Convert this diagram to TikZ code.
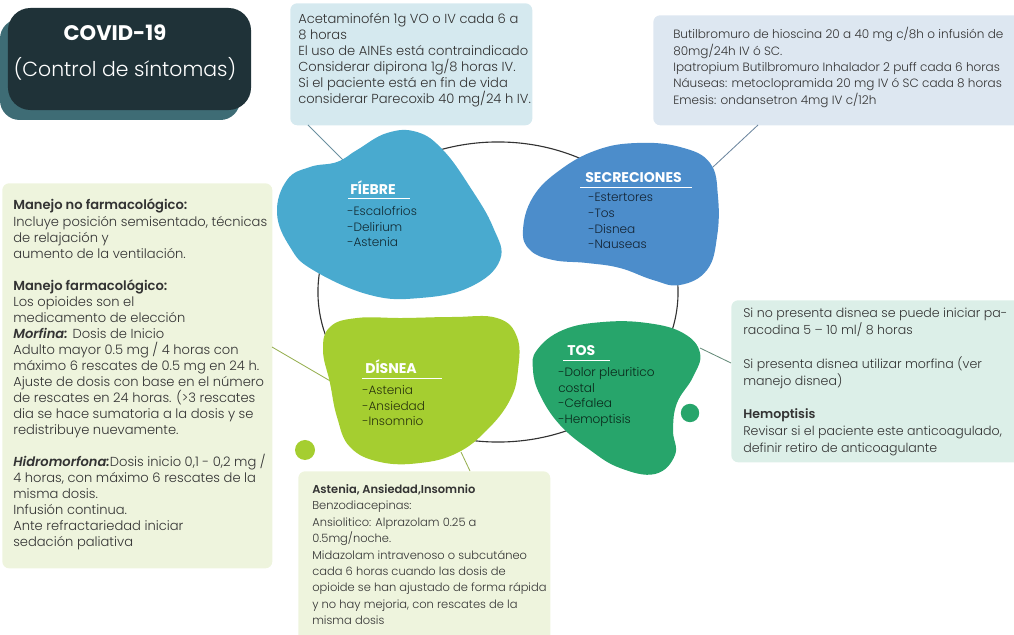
\documentclass[tikz,border=0pt]{standalone}
\usepackage{fontspec}
\setmainfont{Poppins}[UprightFont=* Light, BoldFont=* SemiBold, ItalicFont=* Light Italic, BoldItalicFont=* SemiBold Italic]
\newfontfamily\heavyfont{Poppins}[UprightFont=* Bold]
\usetikzlibrary{calc}
\definecolor{titledark}{HTML}{1F3238}
\definecolor{titleshadow}{HTML}{3E6C75}
\definecolor{fiebreblue}{HTML}{49AACF}
\definecolor{secblue}{HTML}{4C8DCB}
\definecolor{disneagreen}{HTML}{A5CE30}
\definecolor{tosgreen}{HTML}{27A56B}
\definecolor{acetfill}{HTML}{D5E9EF}
\definecolor{butilfill}{HTML}{DDE7F1}
\definecolor{manejofill}{HTML}{EEF4DD}
\definecolor{tosfill}{HTML}{DCEFE8}
\definecolor{boxgray}{HTML}{333333}
\definecolor{ringgray}{HTML}{333333}
\begin{document}
\begin{tikzpicture}[x=0.025cm, y=-0.025cm,
    infobox/.style={rectangle, rounded corners=5pt, anchor=north west, inner sep=0pt},
    boxtext/.style={anchor=north west, align=left, inner sep=0pt, text=boxgray},
    blobtitle/.style={anchor=west, inner sep=0pt, text=white, font=\heavyfont\fontsize{10}{11}\selectfont},
    bloblist/.style={anchor=north west, align=left, inner sep=0pt, font=\fontsize{8.6}{11.2}\selectfont},
    link/.style={line width=0.6pt}
]
    \useasboundingbox (0,0) rectangle (1014,635);

    % title
    \fill[titleshadow, rounded corners=14pt] (0,19) rectangle (240,120);
    \node[fill=titledark, rounded corners=16pt, minimum width=6.075cm, minimum height=2.55cm, inner sep=0pt] (title) at (129.5,59) {};
    \node[text=white, font=\heavyfont\fontsize{15}{17}\selectfont] (covid) at (115,33) {COVID-19};
    \node[text=white, font=\fontsize{14.5}{17}\selectfont] (control) at (125,69) {(Control de síntomas)};

    % info boxes
    \node[infobox, fill=acetfill, minimum width=6.05cm, minimum height=3.05cm] (acet) at (290,3) {};
    \node[infobox, fill=butilfill, minimum width=9.4cm, minimum height=2.75cm] (butil) at (653,15) {};
    \node[infobox, fill=manejofill, minimum width=6.75cm, minimum height=9.625cm] (manejo) at (2,183) {};
    \node[infobox, fill=manejofill, minimum width=6.3cm, minimum height=4.5cm] (benzo) at (298,471) {};
    \node[infobox, fill=tosfill, minimum width=7.4cm, minimum height=4.05cm] (hemo) at (731,300) {};

    \node[boxtext, font=\fontsize{9.3}{11.4}\selectfont] (acet-text) at (298,13) {%
        Acetaminofén 1g VO o IV cada 6 a\\
        8 horas\\
        El uso de AINEs está contraindicado\\
        Considerar dipirona 1g/8 horas IV.\\
        Si el paciente está en fin de vida\\
        considerar Parecoxib 40 mg/24 h IV.};
    \node[boxtext, font=\fontsize{8.55}{11.7}\selectfont] (butil-text) at (673,27) {%
        Butilbromuro de hioscina 20 a 40 mg c/8h o infusión de\\
        80mg/24h IV ó SC.\\
        Ipatropium Butilbromuro Inhalador 2 puff cada 6 horas\\
        Náuseas: metoclopramida 20 mg IV ó SC cada 8 horas\\
        Emesis: ondansetron 4mg IV c/12h};
    \node[boxtext, font=\fontsize{9.3}{11.4}\selectfont] (manejo-text) at (13,199) {%
        \textbf{Manejo no farmacológico:}\\
        Incluye posición semisentado, técnicas\\
        de relajación y\\
        aumento de la ventilación.\\[11.4pt]
        \textbf{Manejo farmacológico:}\\
        Los opioides son el\\
        medicamento de elección\\
        \textbf{\textit{Morfina:}} Dosis de Inicio\\
        Adulto mayor 0.5 mg / 4 horas con\\
        máximo 6 rescates de 0.5 mg en 24 h.\\
        Ajuste de dosis con base en el número\\
        de rescates en 24 horas. (>3 rescates\\
        dia se hace sumatoria a la dosis y se\\
        redistribuye nuevamente.\\[11.4pt]
        \textbf{\textit{Hidromorfona:}}Dosis inicio 0,1 - 0,2 mg /\\
        4 horas, con máximo 6 rescates de la\\
        misma dosis.\\
        Infusión continua.\\
        Ante refractariedad iniciar\\
        sedación paliativa};
    \node[boxtext, font=\fontsize{8.15}{11.7}\selectfont] (benzo-text) at (312,484) {%
        \textbf{Astenia, Ansiedad,Insomnio}\\
        Benzodiacepinas:\\
        Ansiolitico: Alprazolam 0.25 a\\
        0.5mg/noche.\\
        Midazolam intravenoso o subcutáneo\\
        cada 6 horas cuando las dosis de\\
        opioide se han ajustado de forma rápida\\
        y no hay mejoria, con rescates de la\\
        misma dosis};
    \node[boxtext, font=\fontsize{8.95}{12}\selectfont] (hemo-text) at (743,308) {%
        Si no presenta disnea se puede iniciar pa-\\
        racodina 5 -- 10 ml/ 8 horas\\[12pt]
        Si presenta disnea utilizar morfina (ver\\
        manejo disnea)\\[12pt]
        \textbf{Hemoptisis}\\
        Revisar si el paciente este anticoagulado,\\
        definir retiro de anticoagulante};

    % connector ends
    \coordinate (fiebre-pin) at (343,160);
    \coordinate (acet-pin) at (308,125);
    \coordinate (sec-pin) at (713,167);
    \coordinate (butil-pin) at (758,125);
    \coordinate (disnea-pin) at (332,382);
    \coordinate (manejo-pin) at (272,347);
    \coordinate (tos-pin) at (700,348);
    \coordinate (hemo-pin) at (731,363);
    \coordinate (disnea-low) at (461,452);
    \coordinate (benzo-pin) at (470,471);

    \draw[link, color=fiebreblue!40!gray] (acet-pin) -- (fiebre-pin);
    \draw[link, color=secblue!40!gray] (butil-pin) -- (sec-pin);
    \draw[link, color=disneagreen!60!gray] (manejo-pin) -- (disnea-pin);
    \draw[link, color=tosgreen!30!gray] (hemo-pin) -- (tos-pin);
    \draw[link, color=disneagreen!60!gray] (benzo-pin) -- (disnea-low);

    % ring
    \draw[ringgray, line width=0.8pt] (498,292) ellipse [x radius=4.5cm, y radius=3.75cm];

    % blobs
    \fill[fiebreblue] plot[smooth cycle, tension=0.7] coordinates {(310,167) (337,162) (357,150) (387,133) (417,132) (443,150) (470,187) (493,227) (500,260) (470,287) (420,298) (370,295) (313,270) (290,247) (277,213) (287,180)};
    \fill[secblue] plot[smooth cycle, tension=0.7] coordinates {(523,230) (533,197) (560,170) (597,150) (637,143) (680,147) (710,163) (718,197) (717,237) (707,270) (680,285) (653,280) (620,268) (587,263) (553,260) (530,250)};
    \fill[disneagreen] plot[smooth cycle, tension=0.7] coordinates {(330,327) (357,318) (403,318) (453,317) (497,318) (517,337) (518,370) (510,400) (487,430) (457,453) (420,463) (380,462) (350,447) (337,417) (330,383) (323,350)};
    \fill[tosgreen] plot[smooth cycle, tension=0.7] coordinates {(537,350) (563,330) (603,322) (647,323) (683,333) (700,353) (693,377) (677,403) (673,430) (675,455) (655,474) (620,468) (590,450) (560,425) (540,395) (533,370)};
    \fill[disneagreen] (305,450) circle [radius=0.25cm];
    \fill[tosgreen] (690,413) circle [radius=0.23cm];

    % blob labels
    \node[blobtitle] (fiebre) at (350,188) {FÍEBRE};
    \draw[white, line width=0.6pt] (348,198) -- (410,198);
    \node[bloblist, text=black!75!fiebreblue] (fiebre-list) at (347,206) {-Escalofrios\\-Delirium\\-Astenia};

    \node[blobtitle] (sec) at (585,178) {SECRECIONES};
    \draw[white, line width=0.6pt] (580,187) -- (692,187);
    \node[bloblist, text=black!75!secblue] (sec-list) at (588,193) {-Estertores\\-Tos\\-Disnea\\-Nauseas};

    \node[blobtitle] (disnea) at (365,367) {DÍSNEA};
    \draw[white, line width=0.6pt] (362,378) -- (442,378);
    \node[bloblist, text=black!75!disneagreen] (disnea-list) at (362,385) {-Astenia\\-Ansiedad\\-Insomnio};

    \node[blobtitle] (tos) at (567,351) {TOS};
    \draw[white, line width=0.6pt] (563,360) -- (610,360);
    \node[bloblist, text=black!75!tosgreen] (tos-list) at (558,367) {-Dolor pleuritico\\costal\\-Cefalea\\-Hemoptisis};
\end{tikzpicture}
\end{document}
